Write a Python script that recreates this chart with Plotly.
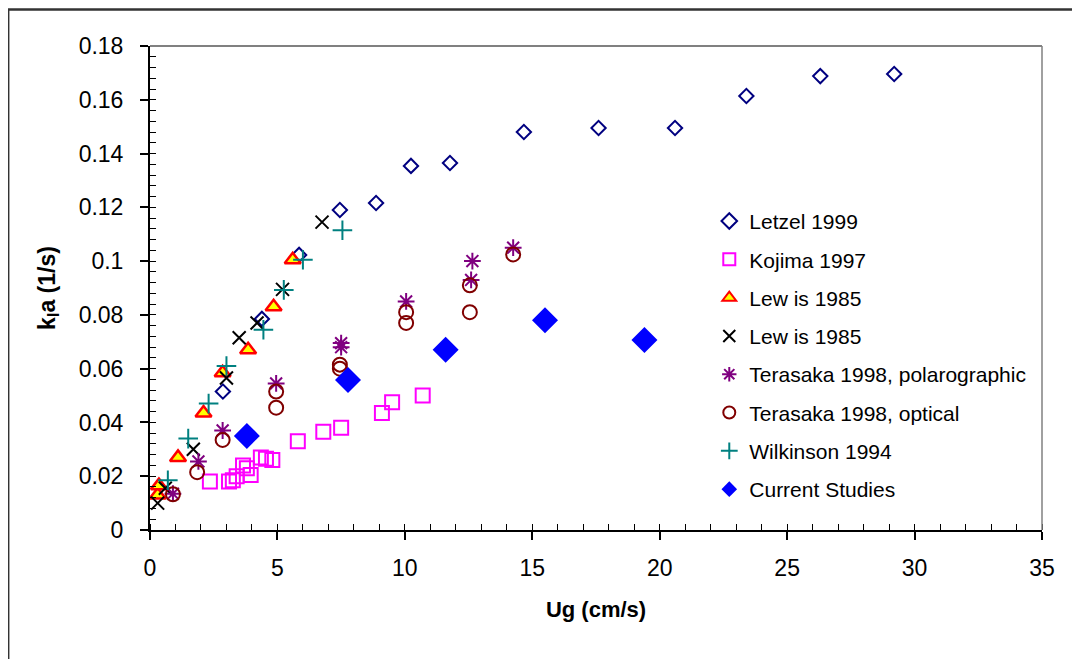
import plotly.graph_objects as go

# Letzel 1999
letzel_x = [2.86, 4.39, 5.85, 7.45, 8.87, 10.24, 11.77, 14.67, 17.6, 20.6, 23.4, 26.3, 29.2]
letzel_y = [0.0515, 0.0785, 0.1023, 0.119, 0.1216, 0.1354, 0.1365, 0.148, 0.1495, 0.1495, 0.1614, 0.1688, 0.1696]

# Kojima 1997
kojima_x = [2.35, 3.1, 3.25, 3.4, 3.65, 3.8, 3.95, 4.35, 4.55, 4.8, 5.8, 6.8, 7.5, 9.1, 9.5, 10.7]
kojima_y = [0.018, 0.018, 0.0185, 0.020, 0.024, 0.023, 0.0205, 0.027, 0.0265, 0.026, 0.033, 0.0365, 0.038, 0.0435, 0.0475, 0.050]

# Lewis 1985 (triangles)
lewis_tri_x = [0.3, 0.35, 1.1, 2.1, 2.85, 3.85, 4.85, 5.6]
lewis_tri_y = [0.013, 0.0165, 0.027, 0.0435, 0.0585, 0.067, 0.083, 0.1005]

# Lewis 1985 (crosses)
lewis_x_x = [0.3, 0.6, 1.7, 3.0, 3.5, 4.2, 5.2, 6.75]
lewis_x_y = [0.010, 0.0155, 0.030, 0.0565, 0.0715, 0.077, 0.0895, 0.1145]

# Terasaka 1998, polarographic
tera_pol_x = [0.9, 1.9, 2.85, 4.95, 7.5, 7.5, 10.05, 12.6, 12.65, 14.25]
tera_pol_y = [0.0135, 0.0255, 0.037, 0.0545, 0.0695, 0.068, 0.085, 0.093, 0.100, 0.105]

# Terasaka 1998, optical
tera_opt_x = [0.9, 1.85, 2.85, 4.95, 4.95, 7.45, 7.45, 10.05, 10.05, 12.55, 12.55, 14.25]
tera_opt_y = [0.0133, 0.0215, 0.0335, 0.0455, 0.0515, 0.060, 0.0615, 0.077, 0.081, 0.081, 0.091, 0.1025]

# Wilkinson 1994
wilk_x = [0.7, 1.5, 2.3, 3.0, 4.45, 5.25, 6.0, 7.55]
wilk_y = [0.0185, 0.034, 0.047, 0.061, 0.0745, 0.0893, 0.1005, 0.1115]

# Current Studies
cur_x = [3.8, 7.77, 11.6, 15.5, 19.4]
cur_y = [0.035, 0.0558, 0.067, 0.078, 0.0707]

series = [
    ("Letzel 1999", letzel_x, letzel_y, dict(symbol="diamond-open", size=11, color="#000080", line=dict(width=2, color="#000080"))),
    ("Kojima 1997", kojima_x, kojima_y, dict(symbol="square-open", size=14, color="#FF00FF", line=dict(width=2, color="#FF00FF"))),
    ("Lew is 1985", lewis_tri_x, lewis_tri_y, dict(symbol="triangle-up", size=14, color="#FFFF00", line=dict(width=2.5, color="#FF0000"))),
    ("Lew is 1985", lewis_x_x, lewis_x_y, dict(symbol="x-thin", size=13, color="black", line=dict(width=2, color="black"))),
    ("Terasaka 1998, polarographic", tera_pol_x, tera_pol_y, dict(symbol="asterisk-open", size=14, color="#800080", line=dict(width=2, color="#800080"))),
    ("Terasaka 1998, optical", tera_opt_x, tera_opt_y, dict(symbol="circle-open", size=14, color="#800000", line=dict(width=2, color="#800000"))),
    ("Wilkinson 1994", wilk_x, wilk_y, dict(symbol="cross-thin", size=14, color="#008080", line=dict(width=2, color="#008080"))),
    ("Current Studies", cur_x, cur_y, dict(symbol="diamond", size=20, color="#0000FF", line=dict(width=0))),
]

fig = go.Figure()
for i, (name, xs, ys, mk) in enumerate(series):
    fig.add_trace(go.Scatter(x=xs, y=ys, mode="markers", name=name, marker=mk,
                             legendgroup="g%d" % i, cliponaxis=False))

fam = "Liberation Sans, Arial"

fig.update_xaxes(range=[0, 35], dtick=5, tick0=0, showgrid=False, zeroline=False,
                 showline=True, linecolor="black", linewidth=2,
                 ticks="outside", ticklen=8, tickwidth=1.5, tickcolor="black",
                 ticklabelstandoff=8, tickfont=dict(family=fam, size=23, color="black"),
                 minor=dict(dtick=1, ticks="inside", ticklen=6, tickwidth=1, tickcolor="black"),
                 title=dict(text="<b>Ug (cm/s)</b>", font=dict(family=fam, size=22, color="black"), standoff=22))
fig.update_yaxes(range=[0, 0.18], dtick=0.02, tick0=0, showgrid=False, zeroline=False,
                 showline=True, linecolor="black", linewidth=2,
                 ticks="outside", ticklen=8, tickwidth=1.5, tickcolor="black",
                 ticklabelstandoff=12, tickfont=dict(family=fam, size=23, color="black"),
                 minor=dict(dtick=0.004, ticks="inside", ticklen=6, tickwidth=1, tickcolor="black"),
                 title=dict(text="<b>k<sub>l</sub>a (1/s)</b>", font=dict(family=fam, size=23, color="black"), standoff=17))

# top and right borders of the plot area, outer chart frame
fig.add_shape(type="line", xref="paper", yref="paper", x0=0, x1=1, y0=1, y1=1, line=dict(color="#808080", width=2))
fig.add_shape(type="line", xref="paper", yref="paper", x0=1, x1=1, y0=0, y1=1, line=dict(color="#808080", width=1.5))
fig.add_shape(type="rect", xref="paper", yref="paper", x0=-0.159, x1=1.2, y0=-0.4, y1=1.0755,
              line=dict(color="#333333", width=2.5))

fig.update_layout(
    width=1080, height=659,
    margin=dict(l=142, r=46, t=38, b=137),
    paper_bgcolor="white", plot_bgcolor="white",
    font=dict(family=fam, color="black"),
    legend=dict(x=0.627, y=0.68, xanchor="left", yanchor="top",
                font=dict(family=fam, size=21, color="black"),
                bgcolor="rgba(255,255,255,0)", itemsizing="constant",
                tracegroupgap=8, itemwidth=30),
)

fig.write_html("out.html")
